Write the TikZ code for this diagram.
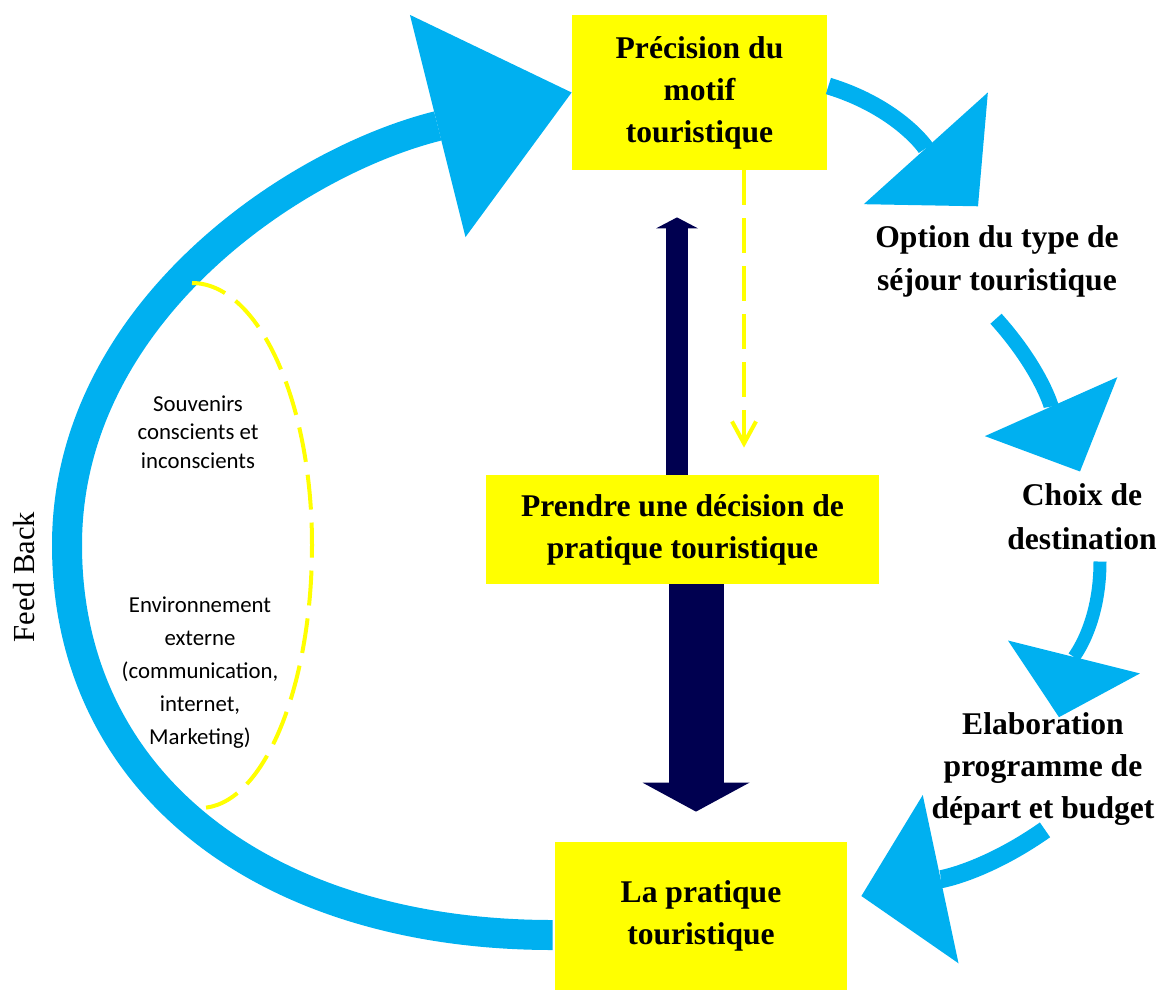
\documentclass[tikz,border=0pt]{standalone}
\usepackage{fontspec}
\setmainfont{Liberation Serif}
\newfontfamily\notefont{Carlito}
\usepackage{tikz}
\usetikzlibrary{arrows.meta,positioning,calc}
\definecolor{skyBlue}{RGB}{0,176,240}
\definecolor{deepNavy}{RGB}{0,0,80}
\definecolor{lemon}{RGB}{255,255,0}

\begin{document}
\begin{tikzpicture}[
  x=0.5pt, y=0.5pt,
  box/.style 2 args={rectangle, fill=lemon, minimum width=#1,
              minimum height=#2, inner sep=0pt, align=center,
              font=\bfseries\fontsize{15.8}{21}\selectfont},
  stage/.style={align=center, inner sep=2pt,
              font=\bfseries\fontsize{15.8}{#1}\selectfont},
  stage/.default=21,
  note/.style={align=center, inner sep=0pt,
              font=\notefont\fontsize{11.4}{#1}\selectfont},
  cyclearr/.style={draw=skyBlue, line width=#1},
  navyarr/.style={draw=deepNavy, line width=#1},
  bigtip/.style 2 args={-{Triangle[length=#1, width=#2, line width=0pt]}},
  yeldash/.style={draw=lemon, line width=2pt, dash pattern=on 17.5pt off 6.5pt}
]
  \useasboundingbox (0,0) rectangle (1157,-992);

  \node[box={127.5pt}{77.5pt}] (B1) at (699.5,-92.5)
    {Précision du\\motif\\touristique};
  \node[box={196.5pt}{54.5pt}] (B2) at (682.5,-529.5)
    {Prendre une décision de\\pratique touristique};
  \node[box={146pt}{74pt}] (B3) at (701,-916)
    {La pratique\\touristique};

  \node[stage=21.5] (S1) at (997,-261.5) {Option du type de\\séjour touristique};
  \node[stage=22] (S2) at (1082,-517) {Choix de\\destination};
  \node[stage] (S3) at (1043,-769) {Elaboration\\programme de\\départ et budget};

  \node[note=14.25] (N1) at (198,-432) {Souvenirs\\conscients et\\inconscients};
  \node[note=16.5] (N2) at (200,-673)
    {Environnement\\externe\\(communication,\\internet,\\Marketing)};
  \node[rotate=90, font=\fontsize{15.3}{18}\selectfont] (FB) at (24,-577) {Feed Back};

  \coordinate (fbl) at (67,-545);
  \draw[cyclearr=15pt, bigtip={69pt}{114.5pt}] ($(B3.west)+(-2,-19)$)
    .. controls +(-285,0) and +(0,-240) .. (fbl)
    .. controls +(0,230) and +(-280,-70) .. (B1.west);
  \draw[cyclearr=8.5pt, bigtip={39pt}{83.5pt}] ($(B1.east)+(1,6.5)$)
    to[out=-17, in=132] ($(S1.north)+(-19,15)$);
  \draw[cyclearr=7.5pt, bigtip={35.5pt}{72.5pt}] ($(S1.south)+(-1,-17)$)
    to[out=-48, in=114] ($(S2.north)+(-2,8)$);
  \draw[cyclearr=6.5pt, bigtip={31pt}{68pt}] ($(S2.south)+(18,-7)$)
    to[out=-90, in=76] ($(S3.north)+(16,-9)$);
  \draw[cyclearr=9pt, bigtip={40.5pt}{86pt}] ($(S3.south)+(2,0)$)
    to[out=215, in=12] ($(B3.east)+(14,20)$);

  \draw[navyarr=11pt, bigtip={5.5pt}{21pt}] ($(B2.north)+(-5.5,0)$)
    -- ($(B1.south)+(-22.5,-47)$);
  \draw[navyarr=27.5pt, bigtip={14.5pt}{53.5pt}] ($(B2.south)+(13.5,0)$)
    -- ($(B3.north)+(-5,30)$);

  \draw[yeldash, -{Straight Barb[length=11pt, width=12pt]}]
    ($(B1.south)+(44.5,0)$) -- ($(B2.north)+(61.5,27)$);
  \draw[yeldash] (192,-283) .. controls (258,-283) and (312,-400) .. (312,-545)
    .. controls (312,-690) and (262,-808) .. (200,-808);
\end{tikzpicture}
\end{document}
